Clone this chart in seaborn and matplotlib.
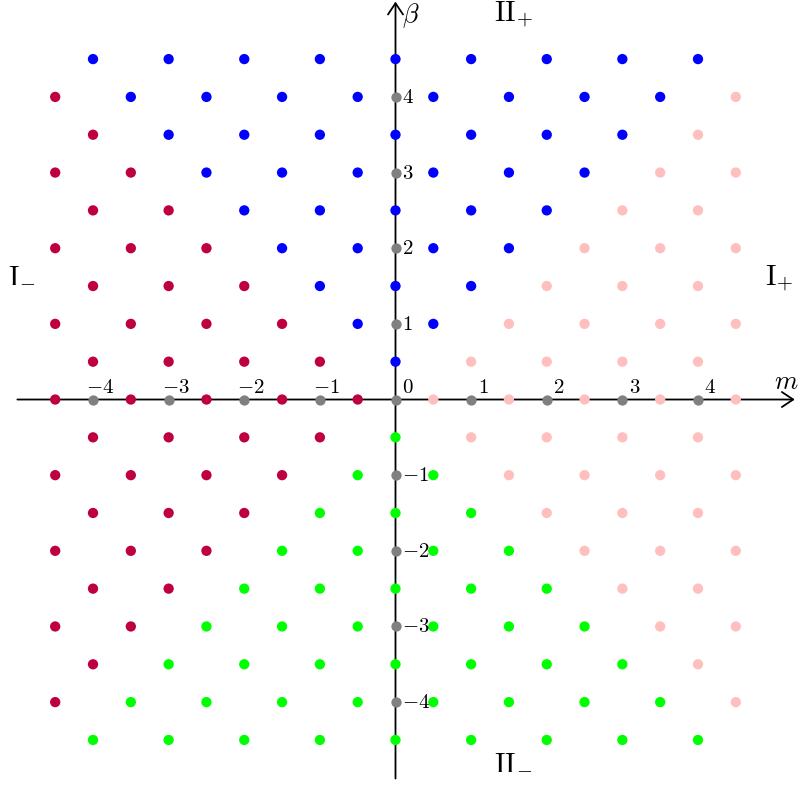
import pandas as pd
import matplotlib
matplotlib.use("Agg")
import matplotlib.pyplot as plt
import seaborn as sns

# weight lattice: beta rows and the m values that sit on them
half_odd_m = [-4.5, -3.5, -2.5, -1.5, -0.5, 0.5, 1.5, 2.5, 3.5, 4.5]
integer_m = [-4, -3, -2, -1, 0, 1, 2, 3, 4]
beta_integer_rows = [-4, -3, -2, -1, 0, 1, 2, 3, 4]
beta_half_rows = [-4.5, -3.5, -2.5, -1.5, -0.5, 0.5, 1.5, 2.5, 3.5, 4.5]

# grey points on the axes and the tick labels
tick_values = [-4, -3, -2, -1, 0, 1, 2, 3, 4]
m_tick_labels = [r"$-4$", r"$-3$", r"$-2$", r"$-1$", r"$0$",
                 r"$\mathbf{1}$", r"$\mathbf{2}$", r"$\mathbf{3}$", r"$\mathbf{4}$"]
beta_tick_labels = [r"$-4$", r"$-3$", r"$-2$", r"$-1$", "",
                    r"$1$", r"$2$", r"$3$", r"$4$"]

region_colors = {
    "I-": (191/255, 0, 64/255),
    "I+": (1.0, 191/255, 191/255),
    "II+": (0, 0, 1.0),
    "II-": (0, 1.0, 0),
}


def region(m, b):
    if b > abs(m):
        return "II+"
    if -b > abs(m):
        return "II-"
    if m < 0:
        return "I-"
    return "I+"


rows = []
for b in beta_integer_rows:
    for m in half_odd_m:
        rows.append((m, b, region(m, b)))
for b in beta_half_rows:
    for m in integer_m:
        rows.append((m, b, region(m, b)))
lattice = pd.DataFrame(rows, columns=["m", "beta", "region"])

axis_pts = pd.DataFrame(
    [(t, 0) for t in tick_values] + [(0, t) for t in tick_values if t != 0],
    columns=["m", "beta"])

plt.rcParams["mathtext.fontset"] = "cm"

fig = plt.figure(figsize=(8, 7.87), dpi=100)
ax = fig.add_axes([0, 0, 1, 1])
ax.set_xlim(-5.23, 5.349)
ax.set_ylim(-5.122, 5.281)
ax.axis("off")

# axes with arrows
arrow = dict(arrowstyle="->, head_length=0.45, head_width=0.3", lw=1.3,
             color="black", mutation_scale=18, shrinkA=0, shrinkB=0)
ax.annotate("", xy=(5.28, 0), xytext=(-5.0, 0), arrowprops=arrow, zorder=1)
ax.annotate("", xy=(0, 5.26), xytext=(0, -5.01), arrowprops=arrow, zorder=1)

sns.scatterplot(data=lattice, x="m", y="beta", hue="region", palette=region_colors,
                s=55, linewidth=0, legend=False, ax=ax, zorder=3)
sns.scatterplot(data=axis_pts, x="m", y="beta", color="#808080",
                s=55, linewidth=0, legend=False, ax=ax, zorder=3)

for t, lab in zip(tick_values, m_tick_labels):
    dx = 0.09 if t < 0 else 0.16
    ax.text(t + dx, 0.09, lab, ha="center", va="baseline", fontsize=15)
for t, lab in zip(tick_values, beta_tick_labels):
    if lab:
        ax.text(0.09, t, lab, ha="left", va="center", fontsize=15)

ax.text(5.33, 0.14, r"$m$", ha="right", va="baseline", fontsize=19)
ax.text(0.09, 5.27, r"$\beta$", ha="left", va="top", fontsize=19)

ax.text(-4.94, 1.55, r"$\mathrm{I}_{-}$", ha="center", va="baseline", fontsize=21)
ax.text(5.07, 1.51, r"$\mathrm{I}_{+}$", ha="center", va="baseline", fontsize=21)
ax.text(1.56, 4.99, r"$\mathrm{II}_{+}$", ha="center", va="baseline", fontsize=21)
ax.text(1.56, -4.89, r"$\mathrm{II}_{-}$", ha="center", va="baseline", fontsize=21)

fig.savefig("out.png", dpi=100)
